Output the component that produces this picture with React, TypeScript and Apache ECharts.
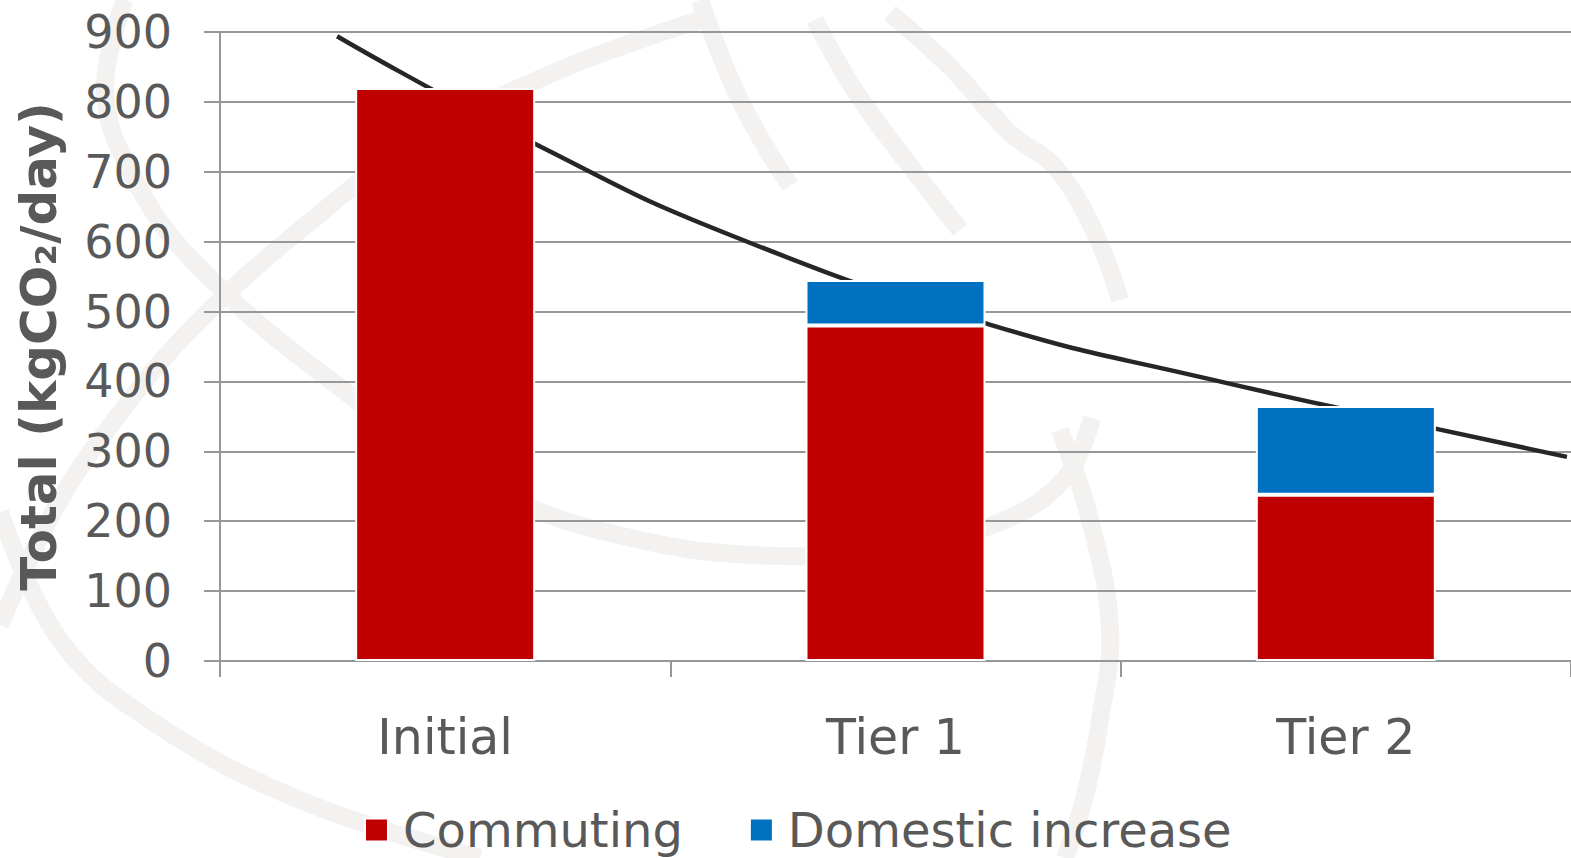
import React, { useEffect, useRef } from "react";
import * as echarts from "echarts";

const categories = ["Initial", "Tier 1", "Tier 2"];
const commuting = [820, 480, 238];
const domesticIncrease = [0, 65, 127];
const yTicks = [0, 100, 200, 300, 400, 500, 600, 700, 800, 900];
// trend line: [category position, value]
const trendX = [-0.24, 0.209, 0.647, 1.211, 1.693, 2.209, 2.491];
const trendY = [894, 737, 606, 481, 404, 331, 292];

// faint background watermark strokes (decoration)
const watermark: number[][][] = [
  [[125, 0], [105, 93], [135, 180], [195, 263], [330, 380], [500, 493], [640, 540], [780, 556], [900, 547], [1000, 522], [1065, 478], [1092, 418]],
  [[0, 625], [60, 500], [130, 400], [200, 320], [300, 230], [420, 140], [560, 70], [700, 20]],
  [[0, 512], [60, 640], [150, 720], [300, 800], [480, 858]],
  [[890, 13], [950, 67], [1010, 133], [1055, 167], [1095, 233], [1120, 300]],
  [[700, 0], [740, 100], [790, 186]],
  [[815, 20], [850, 83], [885, 133], [960, 230]],
  [[1060, 430], [1090, 520], [1110, 629], [1100, 720], [1085, 796], [1065, 858]],
];

export default function App() {
  const ref = useRef<HTMLDivElement>(null);
  useEffect(() => {
    if (!ref.current) return;
    const chart = echarts.init(ref.current, undefined, { renderer: "svg" });
    const font = "'DejaVu Sans', Verdana, sans-serif";
    const gray = "#979797";
    const textColor = "#595959";
    chart.setOption({
      animation: false,
      backgroundColor: "#ffffff",
      graphic: watermark.map((pts) => ({
        type: "polyline",
        z: -10,
        silent: true,
        shape: { points: pts, smooth: 0.4 },
        style: { stroke: "#f3f2f1", lineWidth: 18, fill: null, lineCap: "butt" },
      })),
      grid: { left: 220, right: 0, top: 32, bottom: 197, containLabel: false },
      legend: {
        data: ["Commuting", "Domestic increase"],
        left: 359,
        top: 801,
        itemWidth: 23,
        itemHeight: 23,
        itemGap: 66,
        icon: "rect",
        textStyle: { fontSize: 48, color: textColor, fontFamily: font, padding: [0, 0, 0, 10] },
      },
      xAxis: [
        {
          type: "category",
          data: categories,
          axisLine: { show: true, lineStyle: { color: gray, width: 2 } },
          axisTick: { show: true, length: 16, lineStyle: { color: gray, width: 2 } },
          axisLabel: { fontSize: 49, color: textColor, fontFamily: font, margin: 52 },
        },
        {
          type: "value",
          show: false,
          min: -0.5,
          max: 2.5,
          axisLine: { show: false },
          splitLine: { show: false },
        },
      ],
      yAxis: {
        type: "value",
        min: 0,
        max: 900,
        interval: 100,
        name: "Total (kgCO₂/day)",
        nameLocation: "middle",
        nameRotate: 90,
        nameGap: 156,
        nameTextStyle: { fontSize: 50, fontWeight: "bold", color: textColor, fontFamily: font },
        axisLine: { show: true, onZero: false, lineStyle: { color: gray, width: 2 } },
        axisTick: { show: true, length: 16, lineStyle: { color: gray, width: 2 } },
        splitLine: { show: true, lineStyle: { color: gray, width: 2 } },
        axisLabel: {
          fontSize: 46,
          color: textColor,
          fontFamily: font,
          margin: 48,
          formatter: (v: number) => (yTicks.includes(v) ? String(v) : ""),
        },
      },
      series: [
        {
          name: "Commuting",
          type: "bar",
          stack: "total",
          data: commuting,
          barWidth: 180,
          z: 3,
          itemStyle: { color: "#C00000", borderColor: "#ffffff", borderWidth: 2 },
        },
        {
          name: "Domestic increase",
          type: "bar",
          stack: "total",
          data: domesticIncrease.map((v) => (v === 0 ? null : v)),
          barWidth: 180,
          z: 3,
          itemStyle: { color: "#0070C0", borderColor: "#ffffff", borderWidth: 2 },
        },
        {
          name: "Trend",
          type: "line",
          xAxisIndex: 1,
          data: trendX.map((x, i) => [x, trendY[i]]),
          smooth: 0.5,
          showSymbol: false,
          symbol: "none",
          z: 2,
          lineStyle: { color: "#262626", width: 4.5 },
          clip: false,
        },
      ],
    });
    return () => chart.dispose();
  }, []);
  return (
    <div
      ref={ref}
      style={{ position: "absolute", left: 0, top: 0, width: 1571, height: 858 }}
    />
  );
}
